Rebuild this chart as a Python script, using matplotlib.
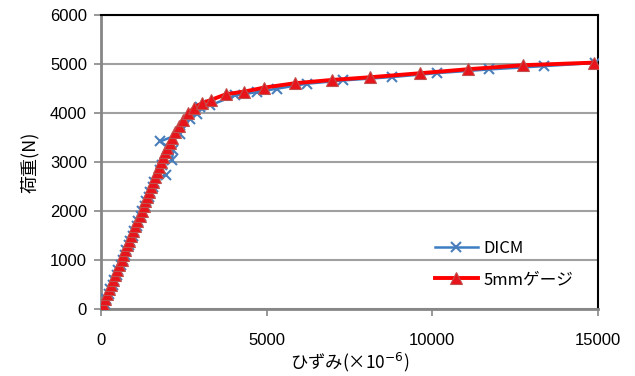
import matplotlib
matplotlib.use("Agg")
import matplotlib.pyplot as plt

plt.rcParams['font.family'] = ['Noto Sans CJK JP', 'DejaVu Sans']

# 5mm gauge series (strain x1e-6, load N)
gauge_strain = [0, 60, 120, 180, 240, 300, 365, 425, 490, 555, 620,
                680, 740, 800, 860, 920, 980, 1040, 1100, 1165, 1228,
                1285, 1340, 1400, 1455, 1515, 1570, 1630, 1690, 1750, 1810,
                1870, 1935, 2000, 2070, 2150, 2234, 2355, 2485, 2635, 2817,
                3040, 3320, 3773, 4316, 4920, 5856, 6972, 8120, 9629,
                11077, 12737, 14880]
gauge_load = [0, 100, 200, 300, 400, 500, 600, 700, 800, 900, 1000,
              1100, 1200, 1300, 1400, 1500, 1600, 1700, 1800, 1900, 2000,
              2100, 2200, 2300, 2400, 2500, 2600, 2700, 2800, 2900, 3000,
              3100, 3200, 3300, 3400, 3500, 3626, 3742, 3865, 4002, 4117,
              4206, 4274, 4391, 4444, 4526, 4616, 4683, 4738, 4820,
              4902, 4984, 5037]

# DICM series
dicm_strain = [0, 110, 150, 230, 270, 360, 400, 470, 520, 590, 650,
               720, 770, 840, 880, 960, 1000, 1080, 1120, 1200, 1240,
               1320, 1360, 1440, 1480, 1560, 1600, 1960, 1780, 1850, 2134,
               2183, 1780, 2384, 2686, 2888, 2988, 3290, 4045, 4699,
               5303, 6208, 7314, 8775, 10133, 11720, 13372, 14900]
dicm_load = [0, 100, 200, 300, 400, 500, 600, 700, 800, 900, 1000,
             1100, 1200, 1300, 1400, 1500, 1600, 1700, 1800, 1900, 2000,
             2100, 2200, 2300, 2400, 2500, 2600, 2750, 2850, 2950, 3037,
             3241, 3425, 3583, 3890, 3992, 4127, 4162, 4366, 4434,
             4503, 4605, 4673, 4741, 4822, 4898, 4965, 5030]

x_ticks = [0, 5000, 10000, 15000]
y_ticks = [0, 1000, 2000, 3000, 4000, 5000, 6000]

fig = plt.figure(figsize=(6.35, 3.76), dpi=100)
ax = fig.add_axes([0.159, 0.178, 0.7827, 0.7808])

ax.plot(dicm_strain, dicm_load, color='#3C7DC4', lw=1.8, marker='x',
        ms=7, mew=1.5, mec='#4A7EBB', label='DICM', zorder=3)
ax.plot(gauge_strain, gauge_load, color='#FF0000', lw=2.8, marker='^',
        ms=9, mfc='#E8141B', mec='#C0504D', mew=0.8, label='5mmゲージ', zorder=4)

ax.set_xlim(0, 15000)
ax.set_ylim(0, 6000)
ax.set_xticks(x_ticks)
ax.set_yticks(y_ticks)
ax.tick_params(axis='both', direction='out', length=5,
               width=1.2, color='#868686')
ax.tick_params(axis='x', pad=12)
ax.tick_params(axis='y', pad=5)
for lab in ax.get_xticklabels() + ax.get_yticklabels():
    lab.set_fontfamily(['Liberation Sans', 'DejaVu Sans'])
    lab.set_fontsize(12)
ax.grid(axis='y', color='#A0A0A0', lw=1.5)
ax.set_axisbelow(True)

for s in ['left', 'bottom']:
    ax.spines[s].set_color('#868686')
    ax.spines[s].set_linewidth(2)
for s in ['top', 'right']:
    ax.spines[s].set_color('#000000')
    ax.spines[s].set_linewidth(1.5)

ax.set_xlabel('ひずみ(×10$^{-6}$)', fontsize=12.5, labelpad=2)
ax.set_ylabel('荷重(N)', fontsize=13, labelpad=8)

leg = ax.legend(loc='lower right', bbox_to_anchor=(0.98, 0.02), frameon=False,
                fontsize=12, handlelength=2.6, handletextpad=0.3,
                labelspacing=0.85)

fig.savefig('out.png', dpi=100)
